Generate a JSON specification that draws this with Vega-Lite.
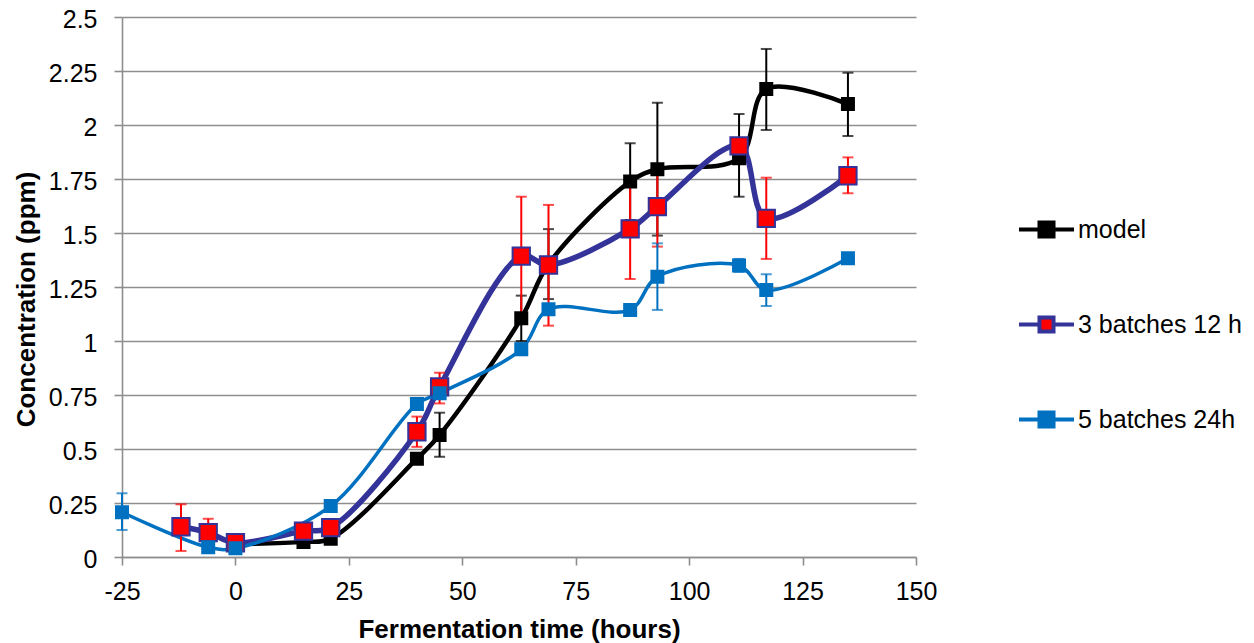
{
  "$schema": "https://vega.github.io/schema/vega-lite/v6.json",
  "width": 794,
  "height": 540,
  "autosize": {"type": "none"},
  "padding": {"left": 122, "top": 17, "right": 338, "bottom": 86},
  "background": "white",
  "config": {
    "view": {"stroke": null},
    "font": "Liberation Sans",
    "legend": {
      "symbolType": "M-1,0L-0.255,0M0.255,0L1,0M-0.255,-0.255L0.255,-0.255L0.255,0.255L-0.255,0.255Z",
      "symbolSize": 3025,
      "symbolStrokeWidth": 4
    }
  },
  "data": {
    "values": [
      {"s": "model", "t": 0, "v": 0.06, "lo": null, "hi": null},
      {"s": "model", "t": 15, "v": 0.07, "lo": null, "hi": null},
      {"s": "model", "t": 21, "v": 0.085, "lo": null, "hi": null},
      {"s": "model", "t": 40, "v": 0.455, "lo": null, "hi": null},
      {"s": "model", "t": 45, "v": 0.565, "lo": 0.464, "hi": 0.668},
      {"s": "model", "t": 63, "v": 1.105, "lo": 1.0, "hi": 1.21},
      {"s": "model", "t": 69, "v": 1.356, "lo": 1.194, "hi": 1.518},
      {"s": "model", "t": 87, "v": 1.738, "lo": 1.56, "hi": 1.915},
      {"s": "model", "t": 93, "v": 1.795, "lo": 1.488, "hi": 2.103},
      {"s": "model", "t": 111, "v": 1.846, "lo": 1.668, "hi": 2.051},
      {"s": "model", "t": 117, "v": 2.167, "lo": 1.977, "hi": 2.352},
      {"s": "model", "t": 135, "v": 2.097, "lo": 1.949, "hi": 2.242},
      {"s": "3 batches 12 h", "t": -12, "v": 0.14, "lo": 0.028, "hi": 0.244},
      {"s": "3 batches 12 h", "t": -6, "v": 0.113, "lo": 0.05, "hi": 0.177},
      {"s": "3 batches 12 h", "t": 0, "v": 0.066, "lo": null, "hi": null},
      {"s": "3 batches 12 h", "t": 15, "v": 0.12, "lo": null, "hi": null},
      {"s": "3 batches 12 h", "t": 21, "v": 0.136, "lo": null, "hi": null},
      {"s": "3 batches 12 h", "t": 40, "v": 0.58, "lo": 0.51, "hi": 0.65},
      {"s": "3 batches 12 h", "t": 45, "v": 0.788, "lo": 0.711, "hi": 0.853},
      {"s": "3 batches 12 h", "t": 63, "v": 1.393, "lo": 1.118, "hi": 1.668},
      {"s": "3 batches 12 h", "t": 69, "v": 1.352, "lo": 1.071, "hi": 1.63},
      {"s": "3 batches 12 h", "t": 87, "v": 1.519, "lo": 1.287, "hi": 1.75},
      {"s": "3 batches 12 h", "t": 93, "v": 1.622, "lo": 1.437, "hi": 1.807},
      {"s": "3 batches 12 h", "t": 111, "v": 1.903, "lo": null, "hi": null},
      {"s": "3 batches 12 h", "t": 117, "v": 1.568, "lo": 1.38, "hi": 1.756},
      {"s": "3 batches 12 h", "t": 135, "v": 1.765, "lo": 1.684, "hi": 1.85},
      {"s": "5 batches 24h", "t": -25, "v": 0.207, "lo": 0.125, "hi": 0.295},
      {"s": "5 batches 24h", "t": -6, "v": 0.045, "lo": null, "hi": null},
      {"s": "5 batches 24h", "t": 0, "v": 0.04, "lo": null, "hi": null},
      {"s": "5 batches 24h", "t": 21, "v": 0.236, "lo": null, "hi": null},
      {"s": "5 batches 24h", "t": 40, "v": 0.708, "lo": null, "hi": null},
      {"s": "5 batches 24h", "t": 45, "v": 0.758, "lo": null, "hi": null},
      {"s": "5 batches 24h", "t": 63, "v": 0.962, "lo": 0.935, "hi": 0.99},
      {"s": "5 batches 24h", "t": 69, "v": 1.147, "lo": null, "hi": null},
      {"s": "5 batches 24h", "t": 87, "v": 1.144, "lo": null, "hi": null},
      {"s": "5 batches 24h", "t": 93, "v": 1.298, "lo": 1.144, "hi": 1.452},
      {"s": "5 batches 24h", "t": 111, "v": 1.349, "lo": 1.32, "hi": 1.38},
      {"s": "5 batches 24h", "t": 117, "v": 1.236, "lo": 1.162, "hi": 1.309},
      {"s": "5 batches 24h", "t": 135, "v": 1.383, "lo": null, "hi": null}
    ]
  },
  "encoding": {
    "x": {
      "field": "t",
      "type": "quantitative",
      "title": "Fermentation time (hours)",
      "scale": {"domain": [-25, 150], "nice": false, "zero": false},
      "axis": {
        "values": [-25, 0, 25, 50, 75, 100, 125, 150],
        "grid": false,
        "labelExpr": "'' + datum.value",
        "labelFontSize": 25,
        "labelFont": "Liberation Sans",
        "labelColor": "#000000",
        "labelPadding": 14,
        "labelFlush": false,
        "labelOverlap": false,
        "tickSize": 8,
        "tickColor": "#8e8e8e",
        "tickWidth": 1.6,
        "domainColor": "#8e8e8e",
        "domainWidth": 1.6,
        "titleFont": "Liberation Sans",
        "titleFontSize": 26,
        "titleFontWeight": "bold",
        "titleColor": "#000000",
        "titleBaseline": "alphabetic",
        "titleX": 397,
        "titleY": 80
      }
    }
  },
  "layer": [
    {
      "mark": {"type": "line", "interpolate": "catmull-rom", "strokeCap": "round", "strokeJoin": "round"},
      "encoding": {
        "y": {
          "field": "v",
          "type": "quantitative",
          "title": "Concentration (ppm)",
          "scale": {"domain": [0, 2.5], "nice": false},
          "axis": {
            "values": [0, 0.25, 0.5, 0.75, 1, 1.25, 1.5, 1.75, 2, 2.25, 2.5],
            "grid": true,
            "gridColor": "#8e8e8e",
            "gridWidth": 1.6,
            "labelExpr": "'' + datum.value",
            "labelFontSize": 25,
            "labelFont": "Liberation Sans",
            "labelColor": "#000000",
            "labelPadding": 17,
            "labelOffset": 2,
            "labelFlush": false,
            "labelOverlap": false,
            "tickSize": 8,
            "tickColor": "#8e8e8e",
            "tickWidth": 1.6,
            "domainColor": "#8e8e8e",
            "domainWidth": 1.6,
            "titleFont": "Liberation Sans",
            "titleFontSize": 26,
            "titleFontWeight": "bold",
            "titleColor": "#000000",
            "titleAngle": 270,
            "titleBaseline": "alphabetic",
            "titleX": -88,
            "titleY": 282
          }
        },
        "stroke": {
          "field": "s",
          "type": "nominal",
          "scale": {"domain": ["model", "3 batches 12 h", "5 batches 24h"], "range": ["#000000", "#333399", "#0070C0"]},
          "legend": {
            "title": null,
            "orient": "none",
            "legendX": 895,
            "legendY": 183,
            "symbolType": "M-1,0L-0.255,0M0.255,0L1,0M-0.255,-0.255L0.255,-0.255L0.255,0.255L-0.255,0.255Z",
            "symbolSize": 3025,
            "symbolStrokeWidth": 4,
            "labelFontSize": 25,
            "labelFont": "Liberation Sans",
            "labelColor": "#000000",
            "labelOffset": 2,
            "rowPadding": 50,
            "padding": 0,
            "labelLimit": 400
          }
        },
        "strokeWidth": {
          "condition": [
            {"test": "datum.s === '3 batches 12 h'", "value": 5.5},
            {"test": "datum.s === '5 batches 24h'", "value": 3.5}
          ],
          "value": 4.5
        }
      }
    },
    {
      "transform": [{"filter": "datum.lo != null"}],
      "mark": {"type": "errorbar", "ticks": {"size": 11}, "thickness": 2},
      "encoding": {
        "y": {"field": "lo", "type": "quantitative", "title": "Concentration (ppm)"},
        "y2": {"field": "hi"},
        "color": {
          "field": "s",
          "type": "nominal",
          "scale": {"domain": ["model", "3 batches 12 h", "5 batches 24h"], "range": ["#000000", "#FF0000", "#0070C0"]},
          "legend": null
        }
      }
    },
    {
      "mark": {"type": "point", "shape": "square", "filled": true, "opacity": 1, "strokeWidth": 2},
      "encoding": {
        "y": {"field": "v", "type": "quantitative", "title": "Concentration (ppm)"},
        "stroke": {
          "field": "s",
          "type": "nominal",
          "scale": {"domain": ["model", "3 batches 12 h", "5 batches 24h"], "range": ["#000000", "#333399", "#0070C0"]},
          "legend": {
            "title": null,
            "orient": "none",
            "legendX": 895,
            "legendY": 183,
            "symbolType": "M-1,0L-0.255,0M0.255,0L1,0M-0.255,-0.255L0.255,-0.255L0.255,0.255L-0.255,0.255Z",
            "symbolSize": 3025,
            "symbolStrokeWidth": 4,
            "labelFontSize": 25,
            "labelFont": "Liberation Sans",
            "labelColor": "#000000",
            "labelOffset": 2,
            "rowPadding": 50,
            "padding": 0,
            "labelLimit": 400
          }
        },
        "fill": {
          "field": "s",
          "type": "nominal",
          "scale": {"domain": ["model", "3 batches 12 h", "5 batches 24h"], "range": ["#000000", "#FF0000", "#0070C0"]},
          "legend": {
            "title": null,
            "orient": "none",
            "legendX": 895,
            "legendY": 183,
            "symbolType": "M-1,0L-0.255,0M0.255,0L1,0M-0.255,-0.255L0.255,-0.255L0.255,0.255L-0.255,0.255Z",
            "symbolSize": 3025,
            "symbolStrokeWidth": 4,
            "labelFontSize": 25,
            "labelFont": "Liberation Sans",
            "labelColor": "#000000",
            "labelOffset": 2,
            "rowPadding": 50,
            "padding": 0,
            "labelLimit": 400
          }
        },
        "size": {
          "condition": [{"test": "datum.s === '3 batches 12 h'", "value": 300}],
          "value": 144
        }
      }
    }
  ]
}
